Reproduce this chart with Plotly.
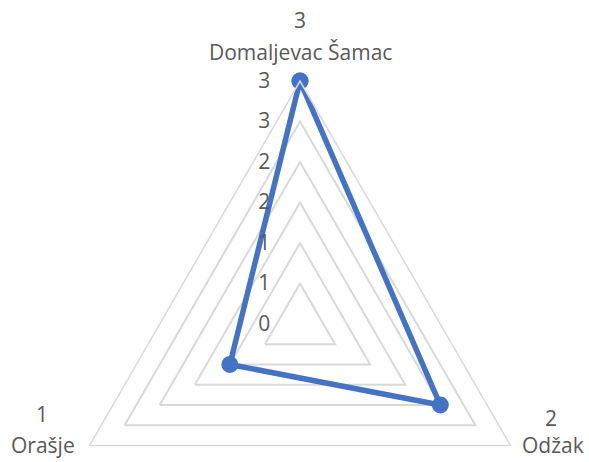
import plotly.graph_objects as go

categories = ["Domaljevac Šamac", "Odžak", "Orašje"]
values = [3, 2, 1]
radial_tickvals = [0, 0.5, 1, 1.5, 2, 2.5, 3]
radial_ticktext = ["0", "1", "1", "2", "2", "3", "3"]

W, H = 589, 648
ML, MR, MT, MB = 57, 46, 81, 81
PW, PH = W - ML - MR, H - MT - MB

def px(x):
    return (x - ML) / PW

def py(y):
    return 1 - (y - MT) / PH

fig = go.Figure()
fig.add_trace(go.Scatterpolar(
    r=values + values[:1],
    theta=categories + categories[:1],
    mode="lines+markers",
    line=dict(color="#4472C4", width=5.5),
    marker=dict(color="#4472C4", size=17),
    showlegend=False,
))

font_col = "#595959"
FS = 21

# category labels (value above name), placed around the outer vertices
label_pos = {
    "Domaljevac Šamac": ((300, 20), (300, 52)),
    "Odžak": ((551, 418), (553, 445)),
    "Orašje": ((42, 414), (43, 445)),
}
annotations = []
for c, v in zip(categories, values):
    (vx, vy), (nx, ny) = label_pos[c]
    annotations.append(dict(text=str(v), x=px(vx), y=py(vy), xref="paper", yref="paper",
                            xanchor="center", yanchor="middle", showarrow=False,
                            font=dict(size=FS, color=font_col)))
    annotations.append(dict(text=c, x=px(nx), y=py(ny), xref="paper", yref="paper",
                            xanchor="center", yanchor="middle", showarrow=False,
                            font=dict(size=FS, color=font_col)))

fig.update_layout(
    width=W, height=H,
    margin=dict(l=ML, r=MR, t=MT, b=MB),
    paper_bgcolor="white",
    font=dict(family="Open Sans", size=FS, color=font_col),
    annotations=annotations,
    polar=dict(
        bgcolor="white",
        gridshape="linear",
        domain=dict(x=[0, 1], y=[0, 1]),
        angularaxis=dict(
            direction="clockwise", rotation=90,
            categoryarray=categories, categoryorder="array",
            showticklabels=False,
            showgrid=False, showline=True, linecolor="#d9d9d9", linewidth=1.5,
            ticks="",
        ),
        radialaxis=dict(
            range=[0, 3], angle=90, tickangle=90,
            tickmode="array", tickvals=radial_tickvals, ticktext=radial_ticktext,
            showline=False, showgrid=True, gridcolor="#d9d9d9", gridwidth=1.5,
            ticks="outside", ticklen=22, tickcolor="rgba(0,0,0,0)",
            side="counterclockwise",
            tickfont=dict(size=FS, color=font_col),
        ),
    ),
)

fig.write_html("out.html", config={"displayModeBar": False},
               post_script="document.body.style.margin='0';document.body.style.overflow='hidden';document.documentElement.style.overflow='hidden';")
